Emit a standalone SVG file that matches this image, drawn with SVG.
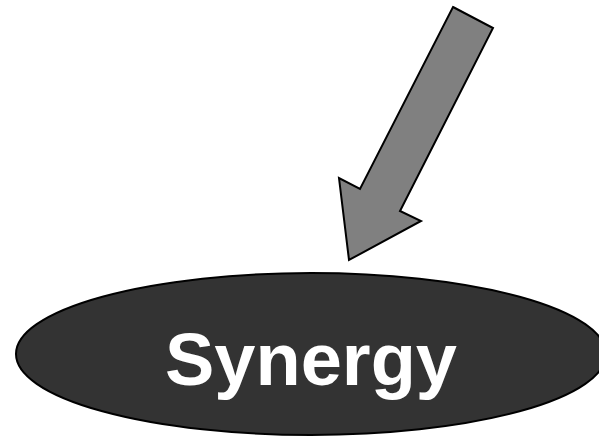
<svg xmlns="http://www.w3.org/2000/svg" width="599" height="437" viewBox="0 0 599 437">
  <style>
    .arrow { fill: #808080; stroke: #000000; stroke-width: 2; stroke-linejoin: miter; }
    .node-shape { fill: #333333; stroke: #000000; stroke-width: 2; }
    .label { font-family: "Liberation Sans", Arial, sans-serif; font-weight: bold; font-size: 74px; fill: #ffffff; text-anchor: middle; }
  </style>
  <rect width="599" height="437" fill="#ffffff"/>
  <g id="connectors">
    <polygon class="arrow" points="453,7 493,28 400,211 421,221 349,260 339,178 360,189"/>
  </g>
  <g id="synergy">
    <ellipse class="node-shape" cx="311" cy="354" rx="295" ry="81"/>
    <text class="label" x="311" y="385">Synergy</text>
  </g>
</svg>
